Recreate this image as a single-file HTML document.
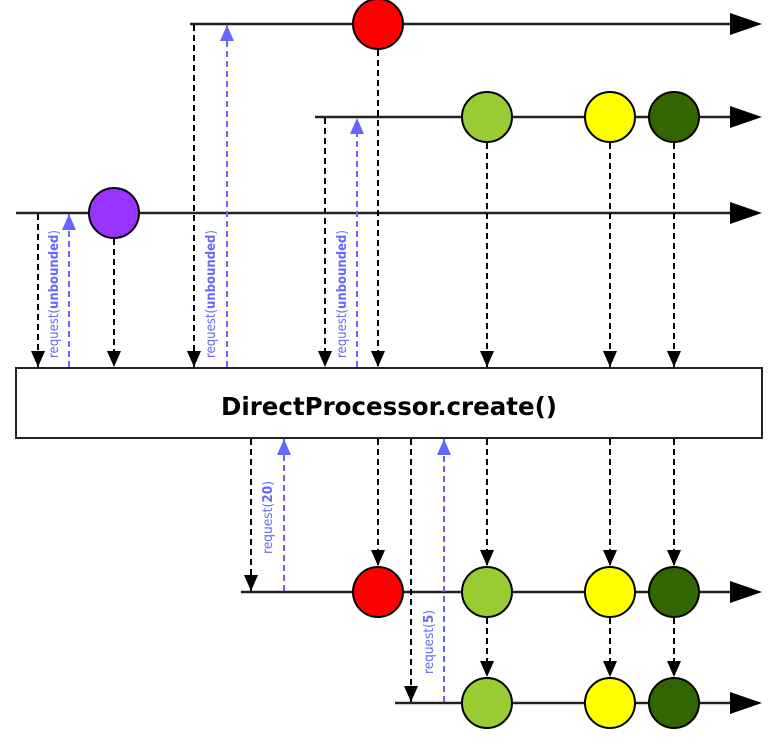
<!DOCTYPE html>
<html><head><style>body{margin:0;background:#fff}svg{display:block}</style></head><body>
<svg width="775" height="744" viewBox="0 0 775 744" xmlns="http://www.w3.org/2000/svg" font-family="'DejaVu Sans','Liberation Sans',sans-serif">
<defs>
<marker id="ab" viewBox="0 0 10 10" refX="10" refY="5" markerWidth="16" markerHeight="14" markerUnits="userSpaceOnUse" orient="auto" preserveAspectRatio="none"><path d="M0,0L10,5L0,10z" fill="#000"/></marker>
<marker id="au" viewBox="0 0 10 10" refX="10" refY="5" markerWidth="16" markerHeight="14" markerUnits="userSpaceOnUse" orient="auto" preserveAspectRatio="none"><path d="M0,0L10,5L0,10z" fill="#6666ff"/></marker>
</defs>
<g stroke="#222" stroke-width="2.5" fill="none">
<line x1="190" y1="24" x2="735" y2="24"/>
<line x1="315" y1="117" x2="735" y2="117"/>
<line x1="16" y1="213" x2="735" y2="213"/>
<line x1="241" y1="592" x2="735" y2="592"/>
<line x1="395" y1="703" x2="735" y2="703"/>
</g>
<g fill="#000">
<path d="M730,13L762,24L730,35z"/><path d="M730,106L762,117L730,128z"/><path d="M730,202L762,213L730,224z"/>
<path d="M730,581L762,592L730,603z"/><path d="M730,692L762,703L730,714z"/>
</g>
<rect x="16" y="368" width="746" height="70" fill="#fff" stroke="#222" stroke-width="2"/>
<text x="389" y="415" text-anchor="middle" font-size="25" font-weight="bold" textLength="336" lengthAdjust="spacingAndGlyphs">DirectProcessor.create()</text>
<g stroke="#000" stroke-width="2" stroke-dasharray="6,4" marker-end="url(#ab)">
<line x1="38" y1="214" x2="38" y2="367"/>
<line x1="114" y1="239" x2="114" y2="367"/>
<line x1="194" y1="25" x2="194" y2="367"/>
<line x1="325" y1="118" x2="325" y2="367"/>
<line x1="378" y1="50" x2="378" y2="367"/>
<line x1="487" y1="143" x2="487" y2="367"/>
<line x1="610" y1="143" x2="610" y2="367"/>
<line x1="674" y1="143" x2="674" y2="367"/>
<line x1="251" y1="439" x2="251" y2="591"/>
<line x1="378" y1="439" x2="378" y2="566"/>
<line x1="411" y1="439" x2="411" y2="702"/>
<line x1="487" y1="439" x2="487" y2="566"/>
<line x1="610" y1="439" x2="610" y2="566"/>
<line x1="674" y1="439" x2="674" y2="566"/>
<line x1="487" y1="618" x2="487" y2="677"/>
<line x1="610" y1="618" x2="610" y2="677"/>
<line x1="674" y1="618" x2="674" y2="677"/>
</g>
<g stroke="#6666ff" stroke-width="2" stroke-dasharray="6,4" marker-end="url(#au)">
<line x1="69" y1="367" x2="69" y2="214"/>
<line x1="227" y1="367" x2="227" y2="25"/>
<line x1="357" y1="367" x2="357" y2="118"/>
<line x1="284" y1="591" x2="284" y2="439"/>
<line x1="444" y1="702" x2="444" y2="439"/>
</g>
<g stroke="#000" stroke-width="2">
<circle cx="378" cy="24" r="25" fill="#ff0000"/>
<circle cx="487" cy="117" r="25" fill="#99cc33"/>
<circle cx="610" cy="117" r="25" fill="#ffff00"/>
<circle cx="674" cy="117" r="25" fill="#336600"/>
<circle cx="114" cy="213" r="25" fill="#9933ff"/>
<circle cx="378" cy="592" r="25" fill="#ff0000"/>
<circle cx="487" cy="592" r="25" fill="#99cc33"/>
<circle cx="610" cy="592" r="25" fill="#ffff00"/>
<circle cx="674" cy="592" r="25" fill="#336600"/>
<circle cx="487" cy="703" r="25" fill="#99cc33"/>
<circle cx="610" cy="703" r="25" fill="#ffff00"/>
<circle cx="674" cy="703" r="25" fill="#336600"/>
</g>
<g fill="#6666ff" font-size="13">
<text transform="translate(58,358) rotate(-90)" textLength="128" lengthAdjust="spacingAndGlyphs">request(<tspan font-weight="bold">unbounded</tspan>)</text>
<text transform="translate(215,358) rotate(-90)" textLength="128" lengthAdjust="spacingAndGlyphs">request(<tspan font-weight="bold">unbounded</tspan>)</text>
<text transform="translate(346,358) rotate(-90)" textLength="128" lengthAdjust="spacingAndGlyphs">request(<tspan font-weight="bold">unbounded</tspan>)</text>
<text transform="translate(272,554) rotate(-90)" textLength="73" lengthAdjust="spacingAndGlyphs">request(<tspan font-weight="bold">20</tspan>)</text>
<text transform="translate(433,674) rotate(-90)" textLength="64" lengthAdjust="spacingAndGlyphs">request(<tspan font-weight="bold">5</tspan>)</text>
</g>
</svg>
</body></html>
